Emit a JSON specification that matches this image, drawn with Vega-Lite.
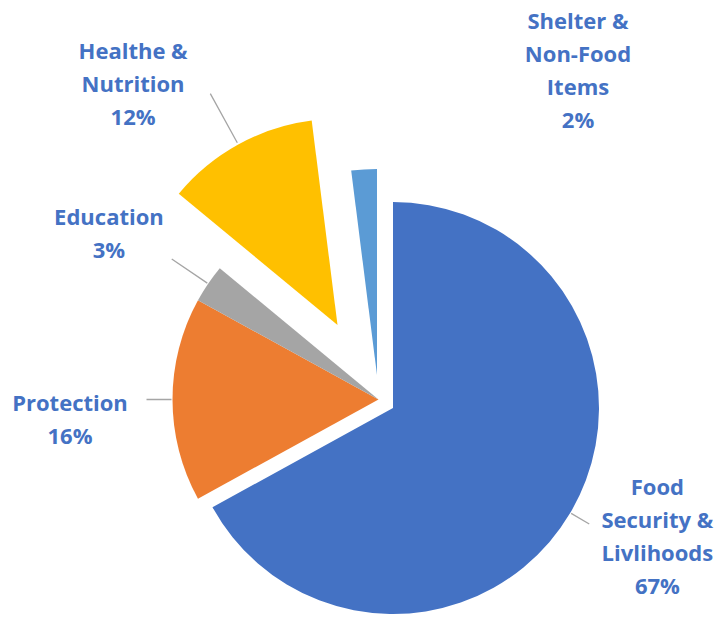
{
  "$schema": "https://vega.github.io/schema/vega-lite/v6.json",
  "autosize": {"type": "none"},
  "width": 679,
  "height": 435,
  "padding": {"left": 39, "top": 182, "right": 0, "bottom": 0},
  "background": "white",
  "config": {"view": {"stroke": null}},
  "data": {
    "values": [
      {"category": "Food Security & Livlihoods", "label": "Food\nSecurity &\nLivlihoods\n67%", "value": 67, "order": 1},
      {"category": "Protection", "label": "Protection\n16%", "value": 16, "order": 2},
      {"category": "Education", "label": "Education\n3%", "value": 3, "order": 3},
      {"category": "Healthe & Nutrition", "label": "Healthe &\nNutrition\n12%", "value": 12, "order": 4},
      {"category": "Shelter & Non-Food Items", "label": "Shelter &\nNon-Food\nItems\n2%", "value": 2, "order": 5}
    ]
  },
  "transform": [
    {"stack": "value", "groupby": [], "sort": [{"field": "order", "order": "ascending"}], "as": ["start", "end"]},
    {"calculate": "(datum.start + datum.end) / 2", "as": "mid"}
  ],
  "layer": [
    {
      "transform": [{"filter": "datum.order == 2 || datum.order == 3"}],
      "mark": {"type": "arc", "radius": 206},
      "encoding": {
        "theta": {"field": "start", "type": "quantitative", "scale": {"domain": [0, 100]}, "stack": null},
        "theta2": {"field": "end"},
        "color": {"field": "category", "type": "nominal", "legend": null,
          "scale": {"domain": ["Food Security & Livlihoods", "Protection", "Education", "Healthe & Nutrition", "Shelter & Non-Food Items"],
                    "range": ["#4472C4", "#ED7D31", "#A5A5A5", "#FFC000", "#5B9BD5"]}}
      }
    },
    {
      "transform": [{"filter": "datum.order == 1"}],
      "mark": {"type": "arc", "radius": 206, "xOffset": 14.5, "yOffset": 8.5},
      "encoding": {
        "theta": {"field": "start", "type": "quantitative", "scale": {"domain": [0, 100]}, "stack": null},
        "theta2": {"field": "end"},
        "color": {"field": "category", "type": "nominal", "legend": null}
      }
    },
    {
      "transform": [{"filter": "datum.order == 4"}],
      "mark": {"type": "arc", "radius": 206, "xOffset": -41, "yOffset": -74.5},
      "encoding": {
        "theta": {"field": "start", "type": "quantitative", "scale": {"domain": [0, 100]}, "stack": null},
        "theta2": {"field": "end"},
        "color": {"field": "category", "type": "nominal", "legend": null}
      }
    },
    {
      "transform": [{"filter": "datum.order == 5"}],
      "mark": {"type": "arc", "radius": 206, "xOffset": -1.5, "yOffset": -24.5},
      "encoding": {
        "theta": {"field": "start", "type": "quantitative", "scale": {"domain": [0, 100]}, "stack": null},
        "theta2": {"field": "end"},
        "color": {"field": "category", "type": "nominal", "legend": null}
      }
    },
    {
      "transform": [{"filter": "datum.order == 1"}],
      "mark": {"type": "arc", "filled": false, "color": "#A5A5A5", "strokeWidth": 1.3, "radius": 228, "radius2": 207, "xOffset": 14.5, "yOffset": 8.5},
      "encoding": {
        "theta": {"field": "mid", "type": "quantitative", "scale": {"domain": [0, 100]}, "stack": null},
        "theta2": {"field": "mid"}
      }
    },
    {
      "transform": [{"filter": "datum.order == 2"}],
      "mark": {"type": "arc", "filled": false, "color": "#A5A5A5", "strokeWidth": 1.3, "radius": 232, "radius2": 207},
      "encoding": {
        "theta": {"field": "mid", "type": "quantitative", "scale": {"domain": [0, 100]}, "stack": null},
        "theta2": {"field": "mid"}
      }
    },
    {
      "transform": [{"filter": "datum.order == 3"}],
      "mark": {"type": "arc", "filled": false, "color": "#A5A5A5", "strokeWidth": 1.3, "radius": 250, "radius2": 207},
      "encoding": {
        "theta": {"field": "mid", "type": "quantitative", "scale": {"domain": [0, 100]}, "stack": null},
        "theta2": {"field": "mid"}
      }
    },
    {
      "transform": [{"filter": "datum.order == 4"}],
      "mark": {"type": "arc", "filled": false, "color": "#A5A5A5", "strokeWidth": 1.3, "radius": 264, "radius2": 208, "xOffset": -41, "yOffset": -74.5},
      "encoding": {
        "theta": {"field": "mid", "type": "quantitative", "scale": {"domain": [0, 100]}, "stack": null},
        "theta2": {"field": "mid"}
      }
    },
    {
      "transform": [{"filter": "datum.order == 1"}],
      "mark": {"type": "text", "font": "Open Sans", "fontWeight": "bold", "fontSize": 22, "color": "#4472C4", "lineBreak": "\n", "lineHeight": 33, "align": "center", "baseline": "middle", "radius": 310.4, "dx": 11.7, "dy": -69.5},
      "encoding": {
        "theta": {"field": "mid", "type": "quantitative", "scale": {"domain": [0, 100]}, "stack": null},
        "text": {"field": "label"}
      }
    },
    {
      "transform": [{"filter": "datum.order == 2"}],
      "mark": {"type": "text", "font": "Open Sans", "fontWeight": "bold", "fontSize": 22, "color": "#4472C4", "lineBreak": "\n", "lineHeight": 33, "align": "center", "baseline": "middle", "radius": 308.5, "dx": 0, "dy": 4},
      "encoding": {
        "theta": {"field": "mid", "type": "quantitative", "scale": {"domain": [0, 100]}, "stack": null},
        "text": {"field": "label"}
      }
    },
    {
      "transform": [{"filter": "datum.order == 3"}],
      "mark": {"type": "text", "font": "Open Sans", "fontWeight": "bold", "fontSize": 22, "color": "#4472C4", "lineBreak": "\n", "lineHeight": 33, "align": "center", "baseline": "middle", "radius": 316, "dx": -8.2, "dy": -3.9},
      "encoding": {
        "theta": {"field": "mid", "type": "quantitative", "scale": {"domain": [0, 100]}, "stack": null},
        "text": {"field": "label"}
      }
    },
    {
      "transform": [{"filter": "datum.order == 4"}],
      "mark": {"type": "text", "font": "Open Sans", "fontWeight": "bold", "fontSize": 22, "color": "#4472C4", "lineBreak": "\n", "lineHeight": 33, "align": "center", "baseline": "middle", "radius": 394, "dx": -55.6, "dy": -2.4},
      "encoding": {
        "theta": {"field": "mid", "type": "quantitative", "scale": {"domain": [0, 100]}, "stack": null},
        "text": {"field": "label"}
      }
    },
    {
      "transform": [{"filter": "datum.order == 5"}],
      "mark": {"type": "text", "font": "Open Sans", "fontWeight": "bold", "fontSize": 22, "color": "#4472C4", "lineBreak": "\n", "lineHeight": 33, "align": "center", "baseline": "middle", "radius": 316.7, "dx": 219.4, "dy": -61.5},
      "encoding": {
        "theta": {"field": "mid", "type": "quantitative", "scale": {"domain": [0, 100]}, "stack": null},
        "text": {"field": "label"}
      }
    }
  ]
}
